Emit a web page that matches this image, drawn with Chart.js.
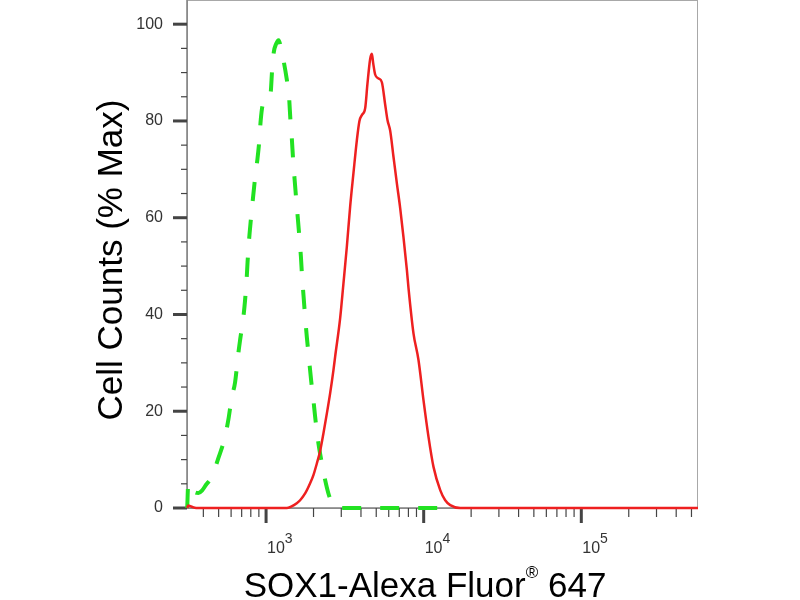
<!DOCTYPE html>
<html>
<head>
<meta charset="utf-8">
<title>SOX1 flow cytometry histogram</title>
<script src="https://cdn.jsdelivr.net/npm/chart.js@4.4.0/dist/chart.umd.min.js"></script>
<style>
    html, body { margin: 0; padding: 0; background: #fff; }
</style>
</head>
<body>
<canvas id="facsChart" width="800" height="600"></canvas>
<script>
// Isotype control (green, dashed): fluorescence intensity and % of max
const controlIntensity = [316, 321, 330, 338, 355, 372, 392, 416, 452, 498, 549, 576, 606, 636, 667, 684,
    718, 736, 754, 763, 780, 797, 821, 845, 877, 903, 925, 953, 993, 1034, 1071, 1092, 1119, 1157,
    1201, 1245, 1282, 1350, 1400, 1427, 1456, 1484, 1512, 1555, 1587, 1632, 1663, 1692, 1730, 1769,
    1813, 1875, 1931, 1997, 2047, 2148, 2258, 2369, 2486, 2664, 2865, 12700];
const controlCounts = [0, 5.2, 4.6, 3.7, 3.2, 3.1, 3.6, 4.8, 6.4, 10.3, 14.7, 18.2, 22.9, 26, 32, 34.7,
    39.5, 43, 47.7, 50.8, 55.4, 58.9, 63.2, 67.2, 71.5, 75.4, 80.2, 83.3, 83.7, 84, 86, 90.5, 94.2, 95.9,
    96.7, 95, 93, 88.8, 84.8, 80.2, 76.5, 72, 68.5, 63.6, 60.2, 55.4, 52, 47.8, 43.7, 39.5,
    35.4, 30.6, 26.4, 22.3, 18.9, 13.4, 9.3, 5.8, 3.0, 0.6, 0, 0];

// SOX1 stained cells (red, solid)
const sox1Intensity = [316, 321, 335, 360, 1353, 1441, 1566, 1644, 1769, 1903, 1997, 2099, 2203, 2311,
    2429, 2549, 2676, 2743, 2950, 3096, 3254, 3415, 3584, 3766, 3912, 4052, 4252, 4398, 4575, 4690,
    4779, 4921, 5164, 5427, 5696, 5891, 6128, 6431, 6758, 7093, 7443, 7822, 8008, 8614, 9268, 9970,
    10727, 11540, 12730, 13694, 14736, 17050, 550000];
const sox1Counts = [0, 0.5, 0.3, 0, 0, 0.3, 1.0, 1.6, 3.0, 5.1, 6.8, 9.2, 11.8, 15.4,
    19.5, 23.7, 28.5, 31.3, 39.2, 46.4, 54, 62.3, 69.2, 76, 80, 81.2, 82.6, 87.7, 92.8, 93.9,
    92, 89.6, 88.8, 88, 83.4, 80.2, 78, 72.6, 67.1, 62, 56, 49.2, 45.5, 36.1, 30.6, 22.3,
    14.7, 8.5, 3.7, 1.6, 0.6, 0, 0];

// Axis ticks and labels
const xMajorTicks = [1e3, 1e4, 1e5];
const xMajorExponents = ['3', '4', '5'];
const xMinorTicks = [400, 500, 600, 700, 800, 900,
    2000, 3000, 4000, 5000, 6000, 7000, 8000, 9000,
    20000, 30000, 40000, 50000, 60000, 70000, 80000, 90000,
    200000, 300000, 400000, 500000];
const yTicks = [0, 5, 10, 15, 20, 25, 30, 35, 40, 45, 50, 55, 60, 65, 70, 75, 80, 85, 90, 95, 100];
const yLabelStep = 20;

const xTitleMain = 'SOX1-Alexa Fluor';
const xTitleMark = '\u00AE';
const xTitleTail = ' 647';
const yTitle = 'Cell Counts (% Max)';

const FONT = "'Liberation Sans', Arial, Helvetica, sans-serif";

function toPoints(xs, ys) {
    return xs.map((x, i) => ({ x: x, y: ys[i] }));
}

// Frame, tick marks and the titles drawn around the plot
const axisDecor = {
    id: 'axisDecor',
    beforeDatasetsDraw(chart) {
        const { ctx, chartArea: a, scales: { x, y } } = chart;
        ctx.save();
        // light frame round the plot
        ctx.strokeStyle = '#a8a8a8';
        ctx.lineWidth = 1;
        ctx.strokeRect(a.left + 0.5, a.top + 0.5, a.right - a.left - 1, a.bottom - a.top);
        // axis lines
        ctx.strokeStyle = '#808080';
        ctx.lineWidth = 1.5;
        ctx.beginPath();
        ctx.moveTo(a.left, a.top);
        ctx.lineTo(a.left, a.bottom);
        ctx.lineTo(a.right, a.bottom);
        ctx.stroke();

        ctx.strokeStyle = '#444';
        // y ticks
        yTicks.forEach(v => {
            const py = y.getPixelForValue(v);
            const major = v % yLabelStep === 0;
            ctx.lineWidth = major ? 3 : 1.2;
            ctx.beginPath();
            ctx.moveTo(a.left - (major ? 14 : 6), py);
            ctx.lineTo(a.left, py);
            ctx.stroke();
        });
        // x ticks
        xMinorTicks.forEach(v => {
            const px = x.getPixelForValue(v);
            ctx.lineWidth = 1.2;
            ctx.beginPath();
            ctx.moveTo(px, a.bottom);
            ctx.lineTo(px, a.bottom + 9);
            ctx.stroke();
        });
        xMajorTicks.forEach(v => {
            const px = x.getPixelForValue(v);
            ctx.lineWidth = 3;
            ctx.beginPath();
            ctx.moveTo(px, a.bottom);
            ctx.lineTo(px, a.bottom + 15);
            ctx.stroke();
        });
        ctx.restore();
    },
    afterDraw(chart) {
        const { ctx, chartArea: a, scales: { x } } = chart;
        ctx.save();
        // x tick labels: 10 with a raised exponent
        ctx.fillStyle = '#333';
        ctx.textAlign = 'left';
        ctx.textBaseline = 'alphabetic';
        xMajorTicks.forEach((v, i) => {
            const px = x.getPixelForValue(v) + 1;
            ctx.font = '16px ' + FONT;
            ctx.fillText('10', px, a.bottom + 45);
            const w = ctx.measureText('10').width;
            ctx.font = '14px ' + FONT;
            ctx.fillText(xMajorExponents[i], px + w, a.bottom + 35);
        });

        // x title with superscript mark
        ctx.fillStyle = '#000';
        ctx.font = '35px ' + FONT;
        const w1 = ctx.measureText(xTitleMain).width;
        const w3 = ctx.measureText(xTitleTail).width;
        ctx.font = '17px ' + FONT;
        const w2 = ctx.measureText(xTitleMark).width;
        let tx = 425 - (w1 + w2 + w3) / 2;
        ctx.font = '35px ' + FONT;
        ctx.fillText(xTitleMain, tx, 597);
        ctx.font = '17px ' + FONT;
        ctx.fillText(xTitleMark, tx + w1, 578);
        ctx.font = '35px ' + FONT;
        ctx.fillText(xTitleTail, tx + w1 + w2, 597);

        // y title, rotated
        ctx.translate(122, 260);
        ctx.rotate(-Math.PI / 2);
        ctx.textAlign = 'center';
        ctx.fillText(yTitle, 0, 0);
        ctx.restore();
    }
};

const ctx = document.getElementById('facsChart').getContext('2d');

new Chart(ctx, {
    type: 'line',
    data: {
        datasets: [{
            label: 'SOX1',
            data: toPoints(sox1Intensity, sox1Counts),
            borderColor: 'rgb(238, 32, 32)',
            borderWidth: 2.5,
            pointRadius: 0,
            fill: false,
            cubicInterpolationMode: 'monotone',
            clip: 4
        }, {
            label: 'Isotype control',
            data: toPoints(controlIntensity, controlCounts),
            borderColor: 'rgb(34, 226, 34)',
            borderWidth: 4,
            borderDash: [19, 19],
            borderCapStyle: 'butt',
            pointRadius: 0,
            fill: false,
            cubicInterpolationMode: 'monotone',
            clip: 4
        }]
    },
    options: {
        responsive: false,
        animation: false,
        layout: { padding: { left: 0, right: 102, top: 0, bottom: 0 } },
        plugins: {
            legend: { display: false },
            tooltip: { enabled: false }
        },
        scales: {
            x: {
                type: 'logarithmic',
                min: 315,
                max: 550000,
                bounds: 'data',
                grid: { display: false },
                border: { display: false },
                ticks: { display: false },
                afterFit: s => { s.height = 92; s.paddingLeft = 0; s.paddingRight = 0; }
            },
            y: {
                type: 'linear',
                min: 0,
                max: 105,
                grid: { display: false, drawTicks: false },
                border: { display: false },
                afterBuildTicks: s => { s.ticks = yTicks.map(v => ({ value: v })); },
                afterFit: s => { s.width = 187; s.paddingTop = 0; s.paddingBottom = 0; },
                ticks: {
                    autoSkip: false,
                    padding: 24,
                    color: '#333',
                    font: { family: FONT, size: 16 },
                    callback: v => (v % yLabelStep === 0 ? String(v) : '')
                }
            }
        }
    },
    plugins: [axisDecor]
});
</script>
</body>
</html>
